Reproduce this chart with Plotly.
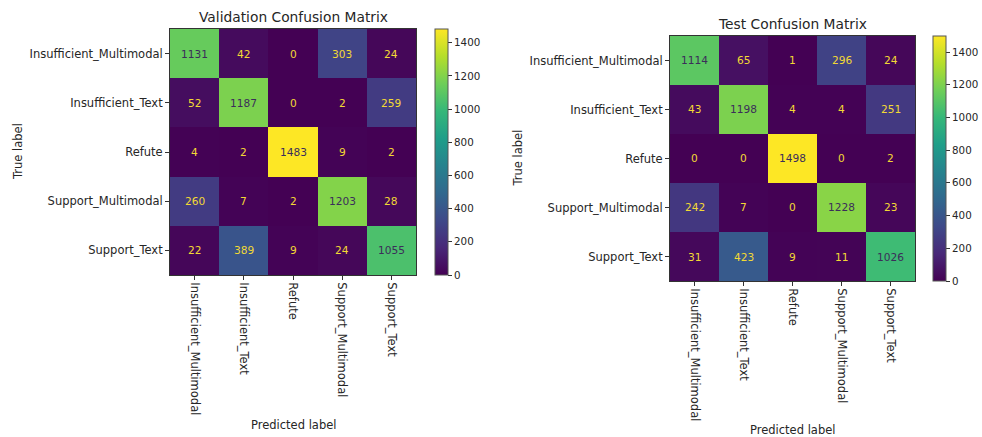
import plotly.graph_objects as go

labels = ["Insufficient_Multimodal", "Insufficient_Text", "Refute", "Support_Multimodal", "Support_Text"]

val_matrix = [
    [1131, 42, 0, 303, 24],
    [52, 1187, 0, 2, 259],
    [4, 2, 1483, 9, 2],
    [260, 7, 2, 1203, 28],
    [22, 389, 9, 24, 1055],
]
test_matrix = [
    [1114, 65, 1, 296, 24],
    [43, 1198, 4, 4, 251],
    [0, 0, 1498, 0, 2],
    [242, 7, 0, 1228, 23],
    [31, 423, 9, 11, 1026],
]
titles = ["Validation Confusion Matrix", "Test Confusion Matrix"]
colorbar_ticks = [0, 200, 400, 600, 800, 1000, 1200, 1400]

W, H = 982, 437
FONT = "DejaVu Sans"
TXT = "#262626"

# pixel boxes for each panel: (left, right, top, bottom), colorbar left
panels = [
    dict(l=170, r=416, t=29, b=275, cb=435, title_y=17, xlab_y=425, ylab_x=18),
    dict(l=670, r=915, t=36, b=281, cb=933, title_y=24, xlab_y=430, ylab_x=517),
]

fig = go.Figure()
annotations = []
for i, (mat, p, ttl) in enumerate(zip([val_matrix, test_matrix], panels, titles)):
    n = i + 1
    xa = "x" if n == 1 else f"x{n}"
    ya = "y" if n == 1 else f"y{n}"
    ca = "coloraxis" if n == 1 else f"coloraxis{n}"
    fig.add_trace(go.Heatmap(z=mat, x=labels, y=labels, xaxis=xa, yaxis=ya,
                             coloraxis=ca, xgap=0, ygap=0, hoverongaps=False))
    zmax = max(max(r) for r in mat)
    zmin = min(min(r) for r in mat)
    thresh = (zmax + zmin) / 2
    for ri, row in enumerate(mat):
        for ci, v in enumerate(row):
            annotations.append(dict(
                x=labels[ci], y=labels[ri], xref=xa, yref=ya, text=str(v),
                showarrow=False,
                font=dict(family=FONT, size=10.6, color="#3b2e5a" if v >= thresh else "#f2d934")))
    cx = (p["l"] + p["r"]) / 2
    cy = (p["t"] + p["b"]) / 2
    annotations.append(dict(x=cx / W, y=1 - p["title_y"] / H, xref="paper", yref="paper",
                            text=ttl, showarrow=False, xanchor="center", yanchor="middle",
                            font=dict(family=FONT, size=13.8, color=TXT)))
    annotations.append(dict(x=cx / W, y=1 - p["xlab_y"] / H, xref="paper", yref="paper",
                            text="Predicted label", showarrow=False, xanchor="center", yanchor="middle",
                            font=dict(family=FONT, size=11.5, color=TXT)))
    annotations.append(dict(x=p["ylab_x"] / W, y=1 - cy / H, xref="paper", yref="paper",
                            text="True label", showarrow=False, textangle=-90,
                            xanchor="center", yanchor="middle",
                            font=dict(family=FONT, size=11.5, color=TXT)))
    axcommon = dict(type="category", showline=True, mirror=True, linecolor="#333",
                    linewidth=1, ticks="outside", ticklen=4, tickcolor="#333",
                    showgrid=False, zeroline=False,
                    tickfont=dict(family=FONT, size=11.5, color=TXT))
    fig.layout[f"xaxis{'' if n == 1 else n}"] = dict(
        domain=[p["l"] / W, p["r"] / W], anchor=ya, tickangle=90, **axcommon)
    fig.layout[f"yaxis{'' if n == 1 else n}"] = dict(
        domain=[1 - p["b"] / H, 1 - p["t"] / H], anchor=xa, autorange="reversed", **axcommon)
    fig.layout[ca] = dict(
        colorscale="Viridis", cmin=zmin, cmax=zmax,
        colorbar=dict(x=p["cb"] / W, xanchor="left", xref="paper",
                      y=1 - cy / H, yanchor="middle", yref="paper",
                      len=p["b"] - p["t"], lenmode="pixels",
                      thickness=13, thicknessmode="pixels",
                      outlinewidth=1, outlinecolor="#555",
                      ticks="outside", ticklen=4, tickcolor="#333",
                      tickvals=colorbar_ticks, ticktext=[str(t) for t in colorbar_ticks],
                      tickfont=dict(family=FONT, size=10.3, color=TXT),
                      xpad=0, ypad=0))

fig.update_layout(width=W, height=H, margin=dict(l=0, r=0, t=0, b=0),
                  paper_bgcolor="white", plot_bgcolor="white",
                  annotations=annotations, showlegend=False,
                  font=dict(family=FONT, color=TXT))
fig.write_html("out.html", config={"displayModeBar": False},
               post_script="document.body.style.margin='0';document.body.style.overflow='hidden';")
